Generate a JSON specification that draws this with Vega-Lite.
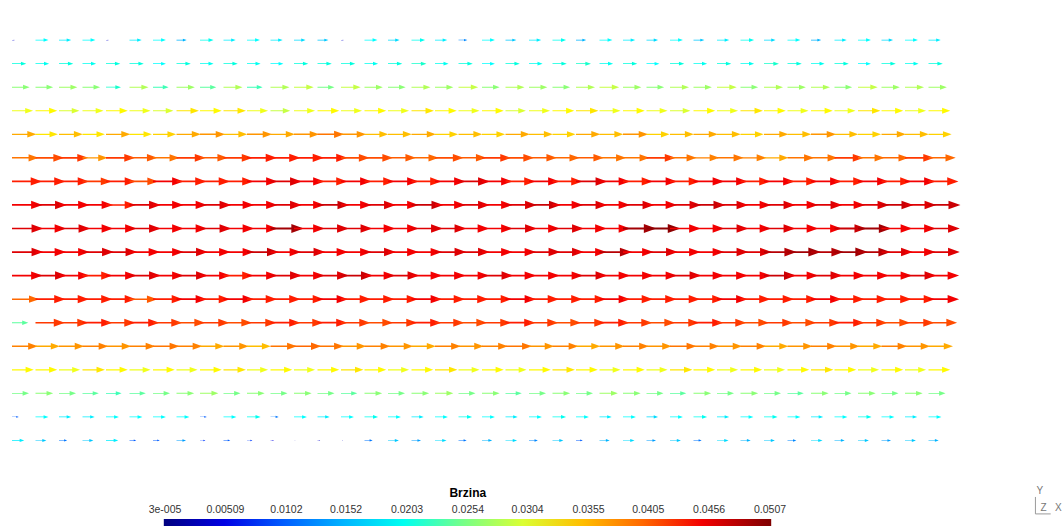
{
  "$schema": "https://vega.github.io/schema/vega-lite/v6.json",
  "width": 1064,
  "height": 526,
  "autosize": "none",
  "padding": 0,
  "background": "white",
  "config": {"view": {"stroke": null}},
  "datasets": {
    "arrows": [
{"x":0,"y":18,"v":0.004},{"x":1,"y":18,"v":0.019},{"x":2,"y":18,"v":0.018},{"x":3,"y":18,"v":0.019},{"x":4,"y":18,"v":0.004},{"x":5,"y":18,"v":0.018},{"x":6,"y":18,"v":0.019},{"x":7,"y":18,"v":0.015},{"x":8,"y":18,"v":0.020},{"x":9,"y":18,"v":0.018},{"x":10,"y":18,"v":0.019},{"x":11,"y":18,"v":0.018},{"x":12,"y":18,"v":0.017},{"x":13,"y":18,"v":0.016},{"x":14,"y":18,"v":0.004},{"x":15,"y":18,"v":0.019},{"x":16,"y":18,"v":0.017},{"x":17,"y":18,"v":0.020},{"x":18,"y":18,"v":0.018},{"x":19,"y":18,"v":0.013},{"x":20,"y":18,"v":0.019},{"x":21,"y":18,"v":0.016},{"x":22,"y":18,"v":0.018},{"x":23,"y":18,"v":0.020},{"x":24,"y":18,"v":0.015},{"x":25,"y":18,"v":0.019},{"x":26,"y":18,"v":0.018},{"x":27,"y":18,"v":0.017},{"x":28,"y":18,"v":0.019},{"x":29,"y":18,"v":0.016},{"x":30,"y":18,"v":0.018},{"x":31,"y":18,"v":0.020},{"x":32,"y":18,"v":0.017},{"x":33,"y":18,"v":0.019},{"x":34,"y":18,"v":0.015},{"x":35,"y":18,"v":0.018},{"x":36,"y":18,"v":0.019},{"x":37,"y":18,"v":0.017},{"x":38,"y":18,"v":0.019},{"x":39,"y":18,"v":0.018},
{"x":0,"y":17,"v":0.021},{"x":1,"y":17,"v":0.020},{"x":2,"y":17,"v":0.021},{"x":3,"y":17,"v":0.020},{"x":4,"y":17,"v":0.021},{"x":5,"y":17,"v":0.021},{"x":6,"y":17,"v":0.019},{"x":7,"y":17,"v":0.021},{"x":8,"y":17,"v":0.020},{"x":9,"y":17,"v":0.021},{"x":10,"y":17,"v":0.020},{"x":11,"y":17,"v":0.019},{"x":12,"y":17,"v":0.021},{"x":13,"y":17,"v":0.021},{"x":14,"y":17,"v":0.021},{"x":15,"y":17,"v":0.020},{"x":16,"y":17,"v":0.021},{"x":17,"y":17,"v":0.022},{"x":18,"y":17,"v":0.020},{"x":19,"y":17,"v":0.021},{"x":20,"y":17,"v":0.019},{"x":21,"y":17,"v":0.021},{"x":22,"y":17,"v":0.020},{"x":23,"y":17,"v":0.021},{"x":24,"y":17,"v":0.022},{"x":25,"y":17,"v":0.020},{"x":26,"y":17,"v":0.021},{"x":27,"y":17,"v":0.019},{"x":28,"y":17,"v":0.021},{"x":29,"y":17,"v":0.020},{"x":30,"y":17,"v":0.021},{"x":31,"y":17,"v":0.020},{"x":32,"y":17,"v":0.022},{"x":33,"y":17,"v":0.021},{"x":34,"y":17,"v":0.020},{"x":35,"y":17,"v":0.021},{"x":36,"y":17,"v":0.019},{"x":37,"y":17,"v":0.021},{"x":38,"y":17,"v":0.020},{"x":39,"y":17,"v":0.021},
{"x":0,"y":16,"v":0.026},{"x":1,"y":16,"v":0.026},{"x":2,"y":16,"v":0.027},{"x":3,"y":16,"v":0.026},{"x":4,"y":16,"v":0.022},{"x":5,"y":16,"v":0.028},{"x":6,"y":16,"v":0.023},{"x":7,"y":16,"v":0.027},{"x":8,"y":16,"v":0.024},{"x":9,"y":16,"v":0.028},{"x":10,"y":16,"v":0.023},{"x":11,"y":16,"v":0.028},{"x":12,"y":16,"v":0.029},{"x":13,"y":16,"v":0.025},{"x":14,"y":16,"v":0.029},{"x":15,"y":16,"v":0.027},{"x":16,"y":16,"v":0.026},{"x":17,"y":16,"v":0.028},{"x":18,"y":16,"v":0.027},{"x":19,"y":16,"v":0.029},{"x":20,"y":16,"v":0.026},{"x":21,"y":16,"v":0.028},{"x":22,"y":16,"v":0.027},{"x":23,"y":16,"v":0.026},{"x":24,"y":16,"v":0.028},{"x":25,"y":16,"v":0.029},{"x":26,"y":16,"v":0.027},{"x":27,"y":16,"v":0.026},{"x":28,"y":16,"v":0.028},{"x":29,"y":16,"v":0.027},{"x":30,"y":16,"v":0.029},{"x":31,"y":16,"v":0.026},{"x":32,"y":16,"v":0.028},{"x":33,"y":16,"v":0.027},{"x":34,"y":16,"v":0.028},{"x":35,"y":16,"v":0.026},{"x":36,"y":16,"v":0.029},{"x":37,"y":16,"v":0.027},{"x":38,"y":16,"v":0.028},{"x":39,"y":16,"v":0.027},
{"x":0,"y":15,"v":0.031},{"x":1,"y":15,"v":0.032},{"x":2,"y":15,"v":0.030},{"x":3,"y":15,"v":0.031},{"x":4,"y":15,"v":0.032},{"x":5,"y":15,"v":0.031},{"x":6,"y":15,"v":0.030},{"x":7,"y":15,"v":0.033},{"x":8,"y":15,"v":0.032},{"x":9,"y":15,"v":0.033},{"x":10,"y":15,"v":0.031},{"x":11,"y":15,"v":0.029},{"x":12,"y":15,"v":0.031},{"x":13,"y":15,"v":0.032},{"x":14,"y":15,"v":0.031},{"x":15,"y":15,"v":0.032},{"x":16,"y":15,"v":0.031},{"x":17,"y":15,"v":0.033},{"x":18,"y":15,"v":0.032},{"x":19,"y":15,"v":0.031},{"x":20,"y":15,"v":0.032},{"x":21,"y":15,"v":0.030},{"x":22,"y":15,"v":0.031},{"x":23,"y":15,"v":0.032},{"x":24,"y":15,"v":0.033},{"x":25,"y":15,"v":0.031},{"x":26,"y":15,"v":0.032},{"x":27,"y":15,"v":0.031},{"x":28,"y":15,"v":0.030},{"x":29,"y":15,"v":0.032},{"x":30,"y":15,"v":0.031},{"x":31,"y":15,"v":0.033},{"x":32,"y":15,"v":0.032},{"x":33,"y":15,"v":0.031},{"x":34,"y":15,"v":0.032},{"x":35,"y":15,"v":0.031},{"x":36,"y":15,"v":0.033},{"x":37,"y":15,"v":0.032},{"x":38,"y":15,"v":0.031},{"x":39,"y":15,"v":0.032},
{"x":0,"y":14,"v":0.036},{"x":1,"y":14,"v":0.033},{"x":2,"y":14,"v":0.035},{"x":3,"y":14,"v":0.033},{"x":4,"y":14,"v":0.036},{"x":5,"y":14,"v":0.033},{"x":6,"y":14,"v":0.034},{"x":7,"y":14,"v":0.036},{"x":8,"y":14,"v":0.037},{"x":9,"y":14,"v":0.035},{"x":10,"y":14,"v":0.037},{"x":11,"y":14,"v":0.036},{"x":12,"y":14,"v":0.037},{"x":13,"y":14,"v":0.039},{"x":14,"y":14,"v":0.037},{"x":15,"y":14,"v":0.035},{"x":16,"y":14,"v":0.035},{"x":17,"y":14,"v":0.036},{"x":18,"y":14,"v":0.034},{"x":19,"y":14,"v":0.035},{"x":20,"y":14,"v":0.034},{"x":21,"y":14,"v":0.036},{"x":22,"y":14,"v":0.035},{"x":23,"y":14,"v":0.034},{"x":24,"y":14,"v":0.036},{"x":25,"y":14,"v":0.035},{"x":26,"y":14,"v":0.037},{"x":27,"y":14,"v":0.034},{"x":28,"y":14,"v":0.035},{"x":29,"y":14,"v":0.036},{"x":30,"y":14,"v":0.035},{"x":31,"y":14,"v":0.034},{"x":32,"y":14,"v":0.036},{"x":33,"y":14,"v":0.035},{"x":34,"y":14,"v":0.037},{"x":35,"y":14,"v":0.035},{"x":36,"y":14,"v":0.034},{"x":37,"y":14,"v":0.036},{"x":38,"y":14,"v":0.035},{"x":39,"y":14,"v":0.034},
{"x":0,"y":13,"v":0.039},{"x":1,"y":13,"v":0.042},{"x":2,"y":13,"v":0.043},{"x":3,"y":13,"v":0.037},{"x":4,"y":13,"v":0.043},{"x":5,"y":13,"v":0.041},{"x":6,"y":13,"v":0.039},{"x":7,"y":13,"v":0.043},{"x":8,"y":13,"v":0.041},{"x":9,"y":13,"v":0.043},{"x":10,"y":13,"v":0.044},{"x":11,"y":13,"v":0.044},{"x":12,"y":13,"v":0.044},{"x":13,"y":13,"v":0.044},{"x":14,"y":13,"v":0.042},{"x":15,"y":13,"v":0.042},{"x":16,"y":13,"v":0.041},{"x":17,"y":13,"v":0.040},{"x":18,"y":13,"v":0.042},{"x":19,"y":13,"v":0.041},{"x":20,"y":13,"v":0.043},{"x":21,"y":13,"v":0.042},{"x":22,"y":13,"v":0.041},{"x":23,"y":13,"v":0.040},{"x":24,"y":13,"v":0.041},{"x":25,"y":13,"v":0.039},{"x":26,"y":13,"v":0.039},{"x":27,"y":13,"v":0.043},{"x":28,"y":13,"v":0.039},{"x":29,"y":13,"v":0.038},{"x":30,"y":13,"v":0.039},{"x":31,"y":13,"v":0.038},{"x":32,"y":13,"v":0.036},{"x":33,"y":13,"v":0.039},{"x":34,"y":13,"v":0.039},{"x":35,"y":13,"v":0.043},{"x":36,"y":13,"v":0.039},{"x":37,"y":13,"v":0.040},{"x":38,"y":13,"v":0.043},{"x":39,"y":13,"v":0.040},
{"x":0,"y":12,"v":0.044},{"x":1,"y":12,"v":0.044},{"x":2,"y":12,"v":0.044},{"x":3,"y":12,"v":0.043},{"x":4,"y":12,"v":0.044},{"x":5,"y":12,"v":0.042},{"x":6,"y":12,"v":0.045},{"x":7,"y":12,"v":0.044},{"x":8,"y":12,"v":0.044},{"x":9,"y":12,"v":0.044},{"x":10,"y":12,"v":0.045},{"x":11,"y":12,"v":0.046},{"x":12,"y":12,"v":0.045},{"x":13,"y":12,"v":0.044},{"x":14,"y":12,"v":0.045},{"x":15,"y":12,"v":0.044},{"x":16,"y":12,"v":0.045},{"x":17,"y":12,"v":0.044},{"x":18,"y":12,"v":0.045},{"x":19,"y":12,"v":0.046},{"x":20,"y":12,"v":0.045},{"x":21,"y":12,"v":0.044},{"x":22,"y":12,"v":0.045},{"x":23,"y":12,"v":0.044},{"x":24,"y":12,"v":0.046},{"x":25,"y":12,"v":0.045},{"x":26,"y":12,"v":0.044},{"x":27,"y":12,"v":0.045},{"x":28,"y":12,"v":0.044},{"x":29,"y":12,"v":0.045},{"x":30,"y":12,"v":0.045},{"x":31,"y":12,"v":0.044},{"x":32,"y":12,"v":0.045},{"x":33,"y":12,"v":0.044},{"x":34,"y":12,"v":0.045},{"x":35,"y":12,"v":0.044},{"x":36,"y":12,"v":0.045},{"x":37,"y":12,"v":0.044},{"x":38,"y":12,"v":0.045},{"x":39,"y":12,"v":0.044},
{"x":0,"y":11,"v":0.045},{"x":1,"y":11,"v":0.046},{"x":2,"y":11,"v":0.045},{"x":3,"y":11,"v":0.045},{"x":4,"y":11,"v":0.044},{"x":5,"y":11,"v":0.046},{"x":6,"y":11,"v":0.045},{"x":7,"y":11,"v":0.045},{"x":8,"y":11,"v":0.046},{"x":9,"y":11,"v":0.045},{"x":10,"y":11,"v":0.045},{"x":11,"y":11,"v":0.046},{"x":12,"y":11,"v":0.045},{"x":13,"y":11,"v":0.047},{"x":14,"y":11,"v":0.045},{"x":15,"y":11,"v":0.046},{"x":16,"y":11,"v":0.045},{"x":17,"y":11,"v":0.047},{"x":18,"y":11,"v":0.045},{"x":19,"y":11,"v":0.046},{"x":20,"y":11,"v":0.045},{"x":21,"y":11,"v":0.046},{"x":22,"y":11,"v":0.047},{"x":23,"y":11,"v":0.045},{"x":24,"y":11,"v":0.046},{"x":25,"y":11,"v":0.045},{"x":26,"y":11,"v":0.046},{"x":27,"y":11,"v":0.045},{"x":28,"y":11,"v":0.046},{"x":29,"y":11,"v":0.047},{"x":30,"y":11,"v":0.046},{"x":31,"y":11,"v":0.045},{"x":32,"y":11,"v":0.046},{"x":33,"y":11,"v":0.045},{"x":34,"y":11,"v":0.046},{"x":35,"y":11,"v":0.045},{"x":36,"y":11,"v":0.046},{"x":37,"y":11,"v":0.047},{"x":38,"y":11,"v":0.046},{"x":39,"y":11,"v":0.047},
{"x":0,"y":10,"v":0.046},{"x":1,"y":10,"v":0.045},{"x":2,"y":10,"v":0.046},{"x":3,"y":10,"v":0.045},{"x":4,"y":10,"v":0.045},{"x":5,"y":10,"v":0.046},{"x":6,"y":10,"v":0.045},{"x":7,"y":10,"v":0.045},{"x":8,"y":10,"v":0.046},{"x":9,"y":10,"v":0.045},{"x":10,"y":10,"v":0.045},{"x":11,"y":10,"v":0.049},{"x":12,"y":10,"v":0.045},{"x":13,"y":10,"v":0.046},{"x":14,"y":10,"v":0.046},{"x":15,"y":10,"v":0.045},{"x":16,"y":10,"v":0.045},{"x":17,"y":10,"v":0.046},{"x":18,"y":10,"v":0.046},{"x":19,"y":10,"v":0.045},{"x":20,"y":10,"v":0.045},{"x":21,"y":10,"v":0.046},{"x":22,"y":10,"v":0.045},{"x":23,"y":10,"v":0.046},{"x":24,"y":10,"v":0.045},{"x":25,"y":10,"v":0.045},{"x":26,"y":10,"v":0.049},{"x":27,"y":10,"v":0.050},{"x":28,"y":10,"v":0.045},{"x":29,"y":10,"v":0.045},{"x":30,"y":10,"v":0.046},{"x":31,"y":10,"v":0.045},{"x":32,"y":10,"v":0.046},{"x":33,"y":10,"v":0.045},{"x":34,"y":10,"v":0.045},{"x":35,"y":10,"v":0.047},{"x":36,"y":10,"v":0.049},{"x":37,"y":10,"v":0.045},{"x":38,"y":10,"v":0.045},{"x":39,"y":10,"v":0.046},
{"x":0,"y":9,"v":0.046},{"x":1,"y":9,"v":0.045},{"x":2,"y":9,"v":0.045},{"x":3,"y":9,"v":0.046},{"x":4,"y":9,"v":0.046},{"x":5,"y":9,"v":0.045},{"x":6,"y":9,"v":0.045},{"x":7,"y":9,"v":0.046},{"x":8,"y":9,"v":0.045},{"x":9,"y":9,"v":0.045},{"x":10,"y":9,"v":0.047},{"x":11,"y":9,"v":0.045},{"x":12,"y":9,"v":0.046},{"x":13,"y":9,"v":0.045},{"x":14,"y":9,"v":0.045},{"x":15,"y":9,"v":0.046},{"x":16,"y":9,"v":0.045},{"x":17,"y":9,"v":0.045},{"x":18,"y":9,"v":0.046},{"x":19,"y":9,"v":0.046},{"x":20,"y":9,"v":0.045},{"x":21,"y":9,"v":0.045},{"x":22,"y":9,"v":0.046},{"x":23,"y":9,"v":0.046},{"x":24,"y":9,"v":0.045},{"x":25,"y":9,"v":0.048},{"x":26,"y":9,"v":0.045},{"x":27,"y":9,"v":0.046},{"x":28,"y":9,"v":0.045},{"x":29,"y":9,"v":0.045},{"x":30,"y":9,"v":0.046},{"x":31,"y":9,"v":0.046},{"x":32,"y":9,"v":0.048},{"x":33,"y":9,"v":0.049},{"x":34,"y":9,"v":0.048},{"x":35,"y":9,"v":0.049},{"x":36,"y":9,"v":0.048},{"x":37,"y":9,"v":0.046},{"x":38,"y":9,"v":0.045},{"x":39,"y":9,"v":0.046},
{"x":0,"y":8,"v":0.045},{"x":1,"y":8,"v":0.046},{"x":2,"y":8,"v":0.045},{"x":3,"y":8,"v":0.044},{"x":4,"y":8,"v":0.045},{"x":5,"y":8,"v":0.046},{"x":6,"y":8,"v":0.045},{"x":7,"y":8,"v":0.046},{"x":8,"y":8,"v":0.045},{"x":9,"y":8,"v":0.044},{"x":10,"y":8,"v":0.045},{"x":11,"y":8,"v":0.046},{"x":12,"y":8,"v":0.045},{"x":13,"y":8,"v":0.046},{"x":14,"y":8,"v":0.047},{"x":15,"y":8,"v":0.045},{"x":16,"y":8,"v":0.046},{"x":17,"y":8,"v":0.045},{"x":18,"y":8,"v":0.045},{"x":19,"y":8,"v":0.045},{"x":20,"y":8,"v":0.046},{"x":21,"y":8,"v":0.045},{"x":22,"y":8,"v":0.045},{"x":23,"y":8,"v":0.045},{"x":24,"y":8,"v":0.046},{"x":25,"y":8,"v":0.045},{"x":26,"y":8,"v":0.045},{"x":27,"y":8,"v":0.045},{"x":28,"y":8,"v":0.046},{"x":29,"y":8,"v":0.045},{"x":30,"y":8,"v":0.045},{"x":31,"y":8,"v":0.045},{"x":32,"y":8,"v":0.047},{"x":33,"y":8,"v":0.045},{"x":34,"y":8,"v":0.046},{"x":35,"y":8,"v":0.045},{"x":36,"y":8,"v":0.045},{"x":37,"y":8,"v":0.045},{"x":38,"y":8,"v":0.046},{"x":39,"y":8,"v":0.045},
{"x":0,"y":7,"v":0.040},{"x":1,"y":7,"v":0.044},{"x":2,"y":7,"v":0.044},{"x":3,"y":7,"v":0.044},{"x":4,"y":7,"v":0.044},{"x":5,"y":7,"v":0.041},{"x":6,"y":7,"v":0.044},{"x":7,"y":7,"v":0.045},{"x":8,"y":7,"v":0.044},{"x":9,"y":7,"v":0.045},{"x":10,"y":7,"v":0.044},{"x":11,"y":7,"v":0.044},{"x":12,"y":7,"v":0.044},{"x":13,"y":7,"v":0.045},{"x":14,"y":7,"v":0.044},{"x":15,"y":7,"v":0.044},{"x":16,"y":7,"v":0.044},{"x":17,"y":7,"v":0.045},{"x":18,"y":7,"v":0.044},{"x":19,"y":7,"v":0.044},{"x":20,"y":7,"v":0.044},{"x":21,"y":7,"v":0.045},{"x":22,"y":7,"v":0.044},{"x":23,"y":7,"v":0.044},{"x":24,"y":7,"v":0.044},{"x":25,"y":7,"v":0.045},{"x":26,"y":7,"v":0.044},{"x":27,"y":7,"v":0.044},{"x":28,"y":7,"v":0.044},{"x":29,"y":7,"v":0.044},{"x":30,"y":7,"v":0.045},{"x":31,"y":7,"v":0.044},{"x":32,"y":7,"v":0.044},{"x":33,"y":7,"v":0.044},{"x":34,"y":7,"v":0.045},{"x":35,"y":7,"v":0.044},{"x":36,"y":7,"v":0.044},{"x":37,"y":7,"v":0.044},{"x":38,"y":7,"v":0.044},{"x":39,"y":7,"v":0.045},
{"x":0,"y":6,"v":0.024},{"x":1,"y":6,"v":0.043},{"x":2,"y":6,"v":0.043},{"x":3,"y":6,"v":0.044},{"x":4,"y":6,"v":0.043},{"x":5,"y":6,"v":0.044},{"x":6,"y":6,"v":0.043},{"x":7,"y":6,"v":0.042},{"x":8,"y":6,"v":0.043},{"x":9,"y":6,"v":0.042},{"x":10,"y":6,"v":0.043},{"x":11,"y":6,"v":0.044},{"x":12,"y":6,"v":0.043},{"x":13,"y":6,"v":0.044},{"x":14,"y":6,"v":0.043},{"x":15,"y":6,"v":0.042},{"x":16,"y":6,"v":0.043},{"x":17,"y":6,"v":0.044},{"x":18,"y":6,"v":0.043},{"x":19,"y":6,"v":0.042},{"x":20,"y":6,"v":0.043},{"x":21,"y":6,"v":0.044},{"x":22,"y":6,"v":0.043},{"x":23,"y":6,"v":0.042},{"x":24,"y":6,"v":0.043},{"x":25,"y":6,"v":0.044},{"x":26,"y":6,"v":0.043},{"x":27,"y":6,"v":0.042},{"x":28,"y":6,"v":0.043},{"x":29,"y":6,"v":0.044},{"x":30,"y":6,"v":0.043},{"x":31,"y":6,"v":0.042},{"x":32,"y":6,"v":0.043},{"x":33,"y":6,"v":0.042},{"x":34,"y":6,"v":0.043},{"x":35,"y":6,"v":0.044},{"x":36,"y":6,"v":0.043},{"x":37,"y":6,"v":0.042},{"x":38,"y":6,"v":0.043},{"x":39,"y":6,"v":0.042},
{"x":0,"y":5,"v":0.038},{"x":1,"y":5,"v":0.036},{"x":2,"y":5,"v":0.037},{"x":3,"y":5,"v":0.038},{"x":4,"y":5,"v":0.037},{"x":5,"y":5,"v":0.038},{"x":6,"y":5,"v":0.039},{"x":7,"y":5,"v":0.038},{"x":8,"y":5,"v":0.036},{"x":9,"y":5,"v":0.037},{"x":10,"y":5,"v":0.035},{"x":11,"y":5,"v":0.039},{"x":12,"y":5,"v":0.040},{"x":13,"y":5,"v":0.039},{"x":14,"y":5,"v":0.037},{"x":15,"y":5,"v":0.038},{"x":16,"y":5,"v":0.037},{"x":17,"y":5,"v":0.036},{"x":18,"y":5,"v":0.038},{"x":19,"y":5,"v":0.037},{"x":20,"y":5,"v":0.038},{"x":21,"y":5,"v":0.039},{"x":22,"y":5,"v":0.037},{"x":23,"y":5,"v":0.038},{"x":24,"y":5,"v":0.036},{"x":25,"y":5,"v":0.037},{"x":26,"y":5,"v":0.038},{"x":27,"y":5,"v":0.037},{"x":28,"y":5,"v":0.039},{"x":29,"y":5,"v":0.038},{"x":30,"y":5,"v":0.037},{"x":31,"y":5,"v":0.038},{"x":32,"y":5,"v":0.036},{"x":33,"y":5,"v":0.037},{"x":34,"y":5,"v":0.038},{"x":35,"y":5,"v":0.037},{"x":36,"y":5,"v":0.036},{"x":37,"y":5,"v":0.038},{"x":38,"y":5,"v":0.037},{"x":39,"y":5,"v":0.036},
{"x":0,"y":4,"v":0.032},{"x":1,"y":4,"v":0.032},{"x":2,"y":4,"v":0.031},{"x":3,"y":4,"v":0.033},{"x":4,"y":4,"v":0.032},{"x":5,"y":4,"v":0.031},{"x":6,"y":4,"v":0.032},{"x":7,"y":4,"v":0.031},{"x":8,"y":4,"v":0.032},{"x":9,"y":4,"v":0.033},{"x":10,"y":4,"v":0.031},{"x":11,"y":4,"v":0.032},{"x":12,"y":4,"v":0.031},{"x":13,"y":4,"v":0.032},{"x":14,"y":4,"v":0.033},{"x":15,"y":4,"v":0.032},{"x":16,"y":4,"v":0.031},{"x":17,"y":4,"v":0.032},{"x":18,"y":4,"v":0.033},{"x":19,"y":4,"v":0.031},{"x":20,"y":4,"v":0.032},{"x":21,"y":4,"v":0.031},{"x":22,"y":4,"v":0.032},{"x":23,"y":4,"v":0.033},{"x":24,"y":4,"v":0.032},{"x":25,"y":4,"v":0.031},{"x":26,"y":4,"v":0.032},{"x":27,"y":4,"v":0.031},{"x":28,"y":4,"v":0.033},{"x":29,"y":4,"v":0.032},{"x":30,"y":4,"v":0.031},{"x":31,"y":4,"v":0.032},{"x":32,"y":4,"v":0.031},{"x":33,"y":4,"v":0.032},{"x":34,"y":4,"v":0.033},{"x":35,"y":4,"v":0.032},{"x":36,"y":4,"v":0.031},{"x":37,"y":4,"v":0.032},{"x":38,"y":4,"v":0.031},{"x":39,"y":4,"v":0.032},
{"x":0,"y":3,"v":0.025},{"x":1,"y":3,"v":0.026},{"x":2,"y":3,"v":0.025},{"x":3,"y":3,"v":0.024},{"x":4,"y":3,"v":0.023},{"x":5,"y":3,"v":0.024},{"x":6,"y":3,"v":0.025},{"x":7,"y":3,"v":0.026},{"x":8,"y":3,"v":0.027},{"x":9,"y":3,"v":0.025},{"x":10,"y":3,"v":0.026},{"x":11,"y":3,"v":0.025},{"x":12,"y":3,"v":0.026},{"x":13,"y":3,"v":0.025},{"x":14,"y":3,"v":0.024},{"x":15,"y":3,"v":0.026},{"x":16,"y":3,"v":0.025},{"x":17,"y":3,"v":0.026},{"x":18,"y":3,"v":0.027},{"x":19,"y":3,"v":0.025},{"x":20,"y":3,"v":0.026},{"x":21,"y":3,"v":0.024},{"x":22,"y":3,"v":0.025},{"x":23,"y":3,"v":0.026},{"x":24,"y":3,"v":0.025},{"x":25,"y":3,"v":0.027},{"x":26,"y":3,"v":0.026},{"x":27,"y":3,"v":0.025},{"x":28,"y":3,"v":0.024},{"x":29,"y":3,"v":0.026},{"x":30,"y":3,"v":0.025},{"x":31,"y":3,"v":0.026},{"x":32,"y":3,"v":0.025},{"x":33,"y":3,"v":0.024},{"x":34,"y":3,"v":0.026},{"x":35,"y":3,"v":0.025},{"x":36,"y":3,"v":0.026},{"x":37,"y":3,"v":0.025},{"x":38,"y":3,"v":0.026},{"x":39,"y":3,"v":0.025},
{"x":0,"y":2,"v":0.010},{"x":1,"y":2,"v":0.019},{"x":2,"y":2,"v":0.018},{"x":3,"y":2,"v":0.018},{"x":4,"y":2,"v":0.019},{"x":5,"y":2,"v":0.019},{"x":6,"y":2,"v":0.019},{"x":7,"y":2,"v":0.019},{"x":8,"y":2,"v":0.010},{"x":9,"y":2,"v":0.019},{"x":10,"y":2,"v":0.020},{"x":11,"y":2,"v":0.012},{"x":12,"y":2,"v":0.019},{"x":13,"y":2,"v":0.018},{"x":14,"y":2,"v":0.019},{"x":15,"y":2,"v":0.020},{"x":16,"y":2,"v":0.019},{"x":17,"y":2,"v":0.018},{"x":18,"y":2,"v":0.019},{"x":19,"y":2,"v":0.020},{"x":20,"y":2,"v":0.019},{"x":21,"y":2,"v":0.018},{"x":22,"y":2,"v":0.019},{"x":23,"y":2,"v":0.020},{"x":24,"y":2,"v":0.019},{"x":25,"y":2,"v":0.018},{"x":26,"y":2,"v":0.019},{"x":27,"y":2,"v":0.017},{"x":28,"y":2,"v":0.019},{"x":29,"y":2,"v":0.020},{"x":30,"y":2,"v":0.018},{"x":31,"y":2,"v":0.019},{"x":32,"y":2,"v":0.020},{"x":33,"y":2,"v":0.019},{"x":34,"y":2,"v":0.018},{"x":35,"y":2,"v":0.019},{"x":36,"y":2,"v":0.020},{"x":37,"y":2,"v":0.019},{"x":38,"y":2,"v":0.018},{"x":39,"y":2,"v":0.019},
{"x":0,"y":1,"v":0.018},{"x":1,"y":1,"v":0.016},{"x":2,"y":1,"v":0.012},{"x":3,"y":1,"v":0.016},{"x":4,"y":1,"v":0.018},{"x":5,"y":1,"v":0.010},{"x":6,"y":1,"v":0.010},{"x":7,"y":1,"v":0.014},{"x":8,"y":1,"v":0.008},{"x":9,"y":1,"v":0.010},{"x":10,"y":1,"v":0.008},{"x":11,"y":1,"v":0.005},{"x":12,"y":1,"v":0.002},{"x":13,"y":1,"v":0.004},{"x":14,"y":1,"v":0.003},{"x":15,"y":1,"v":0.012},{"x":16,"y":1,"v":0.016},{"x":17,"y":1,"v":0.014},{"x":18,"y":1,"v":0.017},{"x":19,"y":1,"v":0.012},{"x":20,"y":1,"v":0.015},{"x":21,"y":1,"v":0.017},{"x":22,"y":1,"v":0.013},{"x":23,"y":1,"v":0.016},{"x":24,"y":1,"v":0.010},{"x":25,"y":1,"v":0.015},{"x":26,"y":1,"v":0.017},{"x":27,"y":1,"v":0.014},{"x":28,"y":1,"v":0.016},{"x":29,"y":1,"v":0.012},{"x":30,"y":1,"v":0.017},{"x":31,"y":1,"v":0.015},{"x":32,"y":1,"v":0.016},{"x":33,"y":1,"v":0.013},{"x":34,"y":1,"v":0.017},{"x":35,"y":1,"v":0.015},{"x":36,"y":1,"v":0.016},{"x":37,"y":1,"v":0.014},{"x":38,"y":1,"v":0.016},{"x":39,"y":1,"v":0.015}
    ],
    "triadText": [
      {"x": 43.74, "y": -1.15, "label": "Y"},
      {"x": 43.9, "y": -1.87, "label": "Z"},
      {"x": 44.52, "y": -1.87, "label": "X"}
    ],
    "triadLines": [
      {"x": 43.55, "y": -1.4, "x2": 43.55, "y2": -2.12},
      {"x": 43.55, "y": -2.12, "x2": 44.2, "y2": -2.12}
    ]
  },
  "layer": [
    {
      "data": {"name": "arrows"},
      "mark": {
        "type": "point",
        "filled": true,
        "opacity": 1,
        "strokeWidth": 0,
        "shape": "M0,-0.055L1.25,-0.055L1.25,-0.27L2,0L1.25,0.27L1.25,0.055L0,0.055Z"
      },
      "encoding": {
        "x": {"field": "x", "type": "quantitative", "axis": null,
              "scale": {"domain": [-0.5106, 44.766], "nice": false, "zero": false}},
        "y": {"field": "y", "type": "quantitative", "axis": null,
              "scale": {"domain": [-2.633, 19.703], "nice": false, "zero": false}},
        "size": {"field": "v", "type": "quantitative", "legend": null,
                 "scale": {"type": "pow", "exponent": 2, "domain": [0, 0.0507], "range": [0, 1190], "zero": true}},
        "color": {
          "field": "v", "type": "quantitative",
          "scale": {"domain": [-0.00007, 0.0508], "nice": false, "zero": false,
                    "range": ["#00007f", "#0000ff", "#007fff", "#00ffff", "#7fff7f", "#ffff00", "#ff7f00", "#ff0000", "#7f0000"]},
          "legend": {
            "orient": "none",
            "direction": "horizontal",
            "legendX": 163.8,
            "legendY": 488,
            "gradientLength": 607.4,
            "gradientThickness": 12,
            "gradientStrokeWidth": 0,
            "title": "Brzina",
            "titleFont": "Liberation Sans",
            "titleFontSize": 12,
            "titleFontWeight": "bold",
            "titleColor": "#000000",
            "titleAnchor": "middle",
            "titlePadding": 19,
            "labelFont": "Liberation Sans",
            "labelFontSize": 10.5,
            "labelColor": "#333333",
            "labelOffset": -26,
            "labelOverlap": false,
            "values": [0.00003, 0.00509, 0.0102, 0.0152, 0.0203, 0.0254, 0.0304, 0.0355, 0.0405, 0.0456, 0.0507],
            "labelExpr": "datum.value < 0.0001 ? '3e-005' : format(datum.value, '.3~g')"
          }
        }
      }
    },
    {
      "data": {"name": "triadLines"},
      "mark": {"type": "rule", "color": "#9a9a9a", "strokeWidth": 1},
      "encoding": {
        "x": {"field": "x", "type": "quantitative"},
        "y": {"field": "y", "type": "quantitative"},
        "x2": {"field": "x2"},
        "y2": {"field": "y2"}
      }
    },
    {
      "data": {"name": "triadText"},
      "mark": {"type": "text", "font": "Liberation Sans", "fontSize": 10, "color": "#777777", "align": "center", "baseline": "middle"},
      "encoding": {
        "x": {"field": "x", "type": "quantitative"},
        "y": {"field": "y", "type": "quantitative"},
        "text": {"field": "label"}
      }
    }
  ]
}
